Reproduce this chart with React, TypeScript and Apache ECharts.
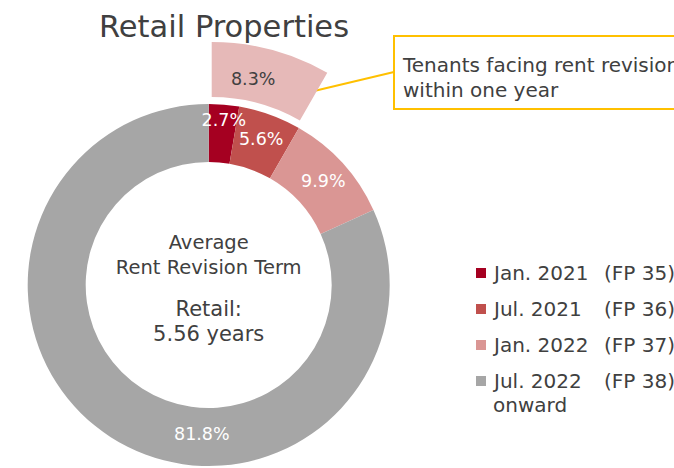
import React, { useEffect, useRef } from "react";
import * as echarts from "echarts";

const periods = ["Jan. 2021", "Jul. 2021", "Jan. 2022", "Jul. 2022"];
const fiscalPeriods = ["(FP 35)", "(FP 36)", "(FP 37)", "(FP 38)"];
const lastSuffix = "onward";
const shares = [2.7, 5.6, 9.9, 81.8];
const sliceColors = ["#A50021", "#C0504D", "#DA9694", "#A6A6A6"];
const withinOneYear = 8.3;
const withinOneYearColor = "#E6B9B8";
const title = "Retail Properties";
const calloutLines = ["Tenants facing rent revision", "within one year"];
const centerLines1 = ["Average", "Rent Revision Term"];
const centerLines2 = ["Retail:", "5.56 years"];

const FONT = "DejaVu Sans";
const TEXT = "#404040";

export default function App() {
  const ref = useRef<HTMLDivElement>(null);
  useEffect(() => {
    if (!ref.current) return;
    const chart = echarts.init(ref.current, undefined, { renderer: "svg" });
    const cx = 208.7;
    const cy = 285;
    const names = periods.map((p, i) => p + " " + fiscalPeriods[i]);
    const labelShift: Record<number, [number, number]> = { 0: [2, -11], 3: [77, 19] };
    chart.setOption({
      animation: false,
      textStyle: { fontFamily: FONT },
      legend: {
        orient: "vertical",
        left: 476,
        top: 262,
        padding: 0,
        itemWidth: 10,
        itemHeight: 10,
        itemGap: 14,
        icon: "rect",
        data: names,
        formatter: (n: string) => {
          const i = names.indexOf(n);
          return "{p|" + periods[i] + "}{f|" + fiscalPeriods[i] + "}";
        },
        textStyle: {
          color: TEXT,
          fontFamily: FONT,
          fontSize: 20,
          lineHeight: 22,
          rich: {
            p: { width: 110, padding: [0, 0, 0, 3], fontSize: 20, fontFamily: FONT, color: TEXT },
            f: { fontSize: 20, fontFamily: FONT, color: TEXT },
          },
        },
      },
      graphic: [
        {
          type: "text",
          left: 99,
          top: 11,
          style: { text: title, fontSize: 30.5, fontFamily: FONT, fill: TEXT },
        },
        {
          type: "line",
          shape: { x1: 293, y1: 96, x2: 394, y2: 72 },
          style: { stroke: "#FFC000", lineWidth: 2 },
        },
        {
          type: "rect",
          shape: { x: 394, y: 36, width: 320, height: 73 },
          style: { fill: "#ffffff", stroke: "#FFC000", lineWidth: 2 },
        },
        {
          type: "text",
          x: 403,
          y: 65,
          style: { text: calloutLines[0], fontSize: 20, fontFamily: FONT, fill: TEXT, verticalAlign: "middle" },
        },
        {
          type: "text",
          x: 403,
          y: 90,
          style: { text: calloutLines[1], fontSize: 20, fontFamily: FONT, fill: TEXT, verticalAlign: "middle" },
        },
        {
          type: "text",
          x: cx,
          y: 242.5,
          style: { text: centerLines1[0], fontSize: 19.5, fontFamily: FONT, fill: TEXT, align: "center", verticalAlign: "middle" },
        },
        {
          type: "text",
          x: cx,
          y: 267,
          style: { text: centerLines1[1], fontSize: 19.5, fontFamily: FONT, fill: TEXT, align: "center", verticalAlign: "middle" },
        },
        {
          type: "text",
          x: cx,
          y: 308.5,
          style: { text: centerLines2[0], fontSize: 21, fontFamily: FONT, fill: TEXT, align: "center", verticalAlign: "middle" },
        },
        {
          type: "text",
          x: cx,
          y: 333.5,
          style: { text: centerLines2[1], fontSize: 21, fontFamily: FONT, fill: TEXT, align: "center", verticalAlign: "middle" },
        },
        {
          type: "text",
          x: 493,
          y: 405,
          style: { text: lastSuffix, fontSize: 20, fontFamily: FONT, fill: TEXT, verticalAlign: "middle" },
        },
      ],
      series: [
        {
          type: "pie",
          center: [cx, cy],
          radius: [123, 181],
          startAngle: 90,
          clockwise: true,
          avoidLabelOverlap: false,
          emphasis: { disabled: true },
          label: {
            show: true,
            position: "inside",
            color: "#ffffff",
            fontSize: 17.5,
            fontFamily: FONT,
            formatter: (p: any) => p.value.toFixed(1) + "%",
          },
          labelLine: { show: false },
          labelLayout: (p: any) => {
            const s = labelShift[p.dataIndex];
            return s ? { dx: s[0], dy: s[1] } : {};
          },
          data: shares.map((v, i) => ({
            name: names[i],
            value: v,
            itemStyle: { color: sliceColors[i] },
          })),
        },
        {
          type: "pie",
          center: [cx + 3, cy - 11],
          radius: [177, 232],
          startAngle: 90,
          clockwise: true,
          silent: true,
          emphasis: { disabled: true },
          label: {
            show: true,
            position: "inside",
            color: TEXT,
            fontSize: 17.5,
            fontFamily: FONT,
            formatter: (p: any) => p.value.toFixed(1) + "%",
          },
          labelLine: { show: false },
          labelLayout: (p: any) => (p.dataIndex === 0 ? { dx: -12, dy: 5 } : {}),
          data: [
            { name: "within", value: withinOneYear, itemStyle: { color: withinOneYearColor } },
            {
              name: "rest",
              value: 100 - withinOneYear,
              itemStyle: { color: "transparent" },
              label: { show: false },
            },
          ],
        },
      ],
    });
    return () => chart.dispose();
  }, []);
  return (
    <div
      ref={ref}
      style={{ position: "fixed", left: 0, top: 0, width: 674, height: 468, background: "#ffffff" }}
    />
  );
}
